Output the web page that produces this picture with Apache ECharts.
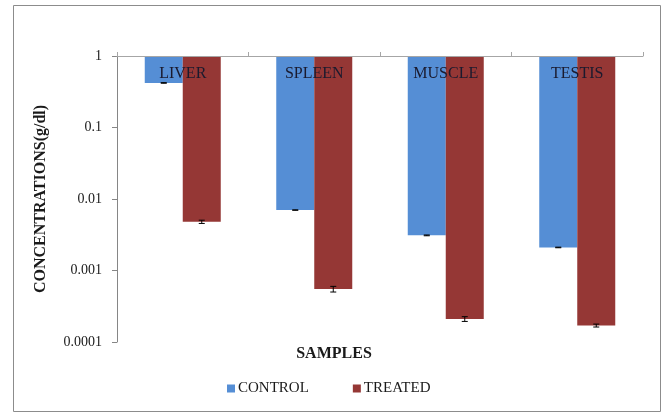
<!DOCTYPE html>
<html>
<head>
<meta charset="utf-8">
<script src="https://cdn.jsdelivr.net/npm/echarts@6/dist/echarts.min.js"></script>
<style>
  html, body { margin: 0; padding: 0; background: #ffffff; }
  #chart { width: 666px; height: 417px; }
</style>
</head>
<body>
<div id="chart"></div>
<script>
// Tissue samples
const categories = ['LIVER', 'SPLEEN', 'MUSCLE', 'TESTIS'];
// Mean concentrations (g/dl)
const controlValues = [0.42, 0.007, 0.0031, 0.0021];
const treatedValues = [0.0048, 0.00055, 0.00021, 0.00017];
// Standard errors (g/dl)
const controlErrors = [0.004, 0.00005, 0.00004, 0.00002];
const treatedErrors = [0.00025, 0.00005, 0.000016, 0.000008];

const SERIF = "'Liberation Serif', 'Times New Roman', serif";
const BLUE = '#558ed5';
const RED = '#953735';
const BAR_W = 38;

const chart = echarts.init(document.getElementById('chart'), null, { renderer: 'canvas' });

// Error bar (whisker with caps) for one bar, shifted to its slot in the group
function errorBarRenderer(offset) {
  return function (params, api) {
    const idx = api.value(0);
    const lo = api.coord([idx, api.value(1)]);
    const hi = api.coord([idx, api.value(2)]);
    const x = lo[0] + offset;
    const cap = 3;
    const style = { stroke: '#000', lineWidth: 1 };
    return {
      type: 'group',
      children: [
        { type: 'line', shape: { x1: x, y1: hi[1], x2: x, y2: lo[1] }, style: style },
        { type: 'line', shape: { x1: x - cap, y1: hi[1], x2: x + cap, y2: hi[1] }, style: style },
        { type: 'line', shape: { x1: x - cap, y1: lo[1], x2: x + cap, y2: lo[1] }, style: style }
      ]
    };
  };
}

const controlErrData = categories.map((c, i) => [i, controlValues[i] - controlErrors[i], controlValues[i] + controlErrors[i]]);
const treatedErrData = categories.map((c, i) => [i, treatedValues[i] - treatedErrors[i], treatedValues[i] + treatedErrors[i]]);

chart.setOption({
  animation: false,
  backgroundColor: '#ffffff',
  grid: { left: 117, right: 23, top: 56, bottom: 75 },
  graphic: [
    {
      type: 'rect',
      shape: { x: 13.5, y: 5.5, width: 647, height: 406 },
      style: { fill: 'none', stroke: '#8c8c8c', lineWidth: 1 },
      silent: true
    },
    {
      type: 'text',
      x: 334, y: 354,
      style: {
        text: 'SAMPLES', font: 'bold 16px ' + SERIF, fill: '#1a1a1a',
        textAlign: 'center', textVerticalAlign: 'middle'
      }
    }
  ],
  legend: {
    data: ['CONTROL', 'TREATED'],
    left: 222, top: 376,
    icon: 'rect', itemWidth: 8, itemHeight: 8, itemGap: 44,
    textStyle: { fontFamily: SERIF, fontSize: 15, color: '#1a1a1a', padding: [0, 0, 0, -2] }
  },
  xAxis: {
    type: 'category',
    data: categories,
    position: 'top',
    z: 10,
    axisLine: { onZero: false, lineStyle: { color: '#a6a6a6', width: 1 } },
    axisTick: { show: true, length: 4, lineStyle: { color: '#a6a6a6' } },
    axisLabel: {
      inside: true, margin: 10, fontFamily: SERIF, fontSize: 16, color: '#1a1a2e'
    },
    splitLine: { show: false }
  },
  yAxis: {
    type: 'log',
    logBase: 10,
    min: 0.0001,
    max: 1,
    name: 'CONCENTRATIONS(g/dl)',
    nameLocation: 'middle',
    nameRotate: 90,
    nameGap: 68,
    nameTextStyle: { fontFamily: SERIF, fontSize: 16, fontWeight: 'bold', color: '#1a1a1a' },
    axisLine: { show: true, lineStyle: { color: '#868686', width: 1 } },
    axisTick: { show: true, length: 5, lineStyle: { color: '#868686' } },
    axisLabel: {
      margin: 15, fontFamily: SERIF, fontSize: 14, color: '#1a1a1a',
      formatter: v => String(Number(Number(v).toPrecision(6)))
    },
    splitLine: { show: false }
  },
  series: [
    {
      name: 'CONTROL', type: 'bar', data: controlValues,
      barWidth: BAR_W, barGap: '0%',
      itemStyle: { color: BLUE }
    },
    {
      name: 'TREATED', type: 'bar', data: treatedValues,
      barWidth: BAR_W, barGap: '0%',
      itemStyle: { color: RED }
    },
    {
      name: 'control-err', type: 'custom', data: controlErrData, z: 5,
      renderItem: errorBarRenderer(-BAR_W / 2),
      encode: { x: 0, y: [1, 2] }
    },
    {
      name: 'treated-err', type: 'custom', data: treatedErrData, z: 5,
      renderItem: errorBarRenderer(BAR_W / 2),
      encode: { x: 0, y: [1, 2] }
    }
  ]
});
</script>
</body>
</html>
